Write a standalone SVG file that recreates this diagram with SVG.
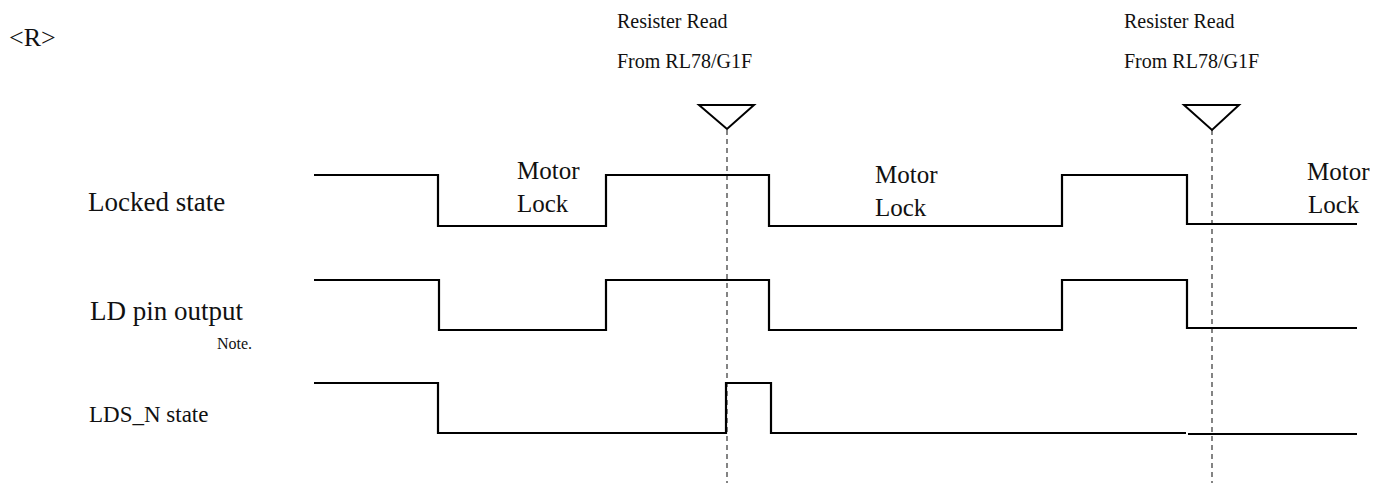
<svg xmlns="http://www.w3.org/2000/svg" width="1374" height="483" viewBox="0 0 1374 483" font-family="'Liberation Serif', 'Times New Roman', 'DejaVu Serif', serif">
<style>
text{font-family:'Liberation Serif','Times New Roman','DejaVu Serif',serif;fill:#111}
.sig{fill:none;stroke:#000;stroke-width:2.2;stroke-linejoin:miter}
.dash{fill:none;stroke:#333;stroke-width:1.2;stroke-dasharray:5 4}
.tri{fill:#fff;stroke:#000;stroke-width:2}
.lbl{font-size:27px}
.ml{font-size:25px}
.rr{font-size:20px}
</style>
<rect width="1374" height="483" fill="#fff"/>
<text x="9" y="46" font-size="26">&lt;R&gt;</text>
<g id="labels">
<text class="lbl" x="88" y="211">Locked state</text>
<text class="lbl" x="90" y="320">LD pin output</text>
<text x="217" y="349" font-size="16">Note.</text>
<text x="89" y="422" font-size="23">LDS_N state</text>
</g>
<g id="connectors">
<line class="dash" x1="727" y1="130" x2="727" y2="483"/>
<line class="dash" x1="1212" y1="130" x2="1212" y2="483"/>
</g>
<g id="read1">
<polygon class="tri" points="699,105 754,105 727,129"/>
<text class="rr" x="617" y="28">Resister Read</text>
<text class="rr" x="617" y="68">From RL78/G1F</text>
</g>
<g id="read2">
<polygon class="tri" points="1184,105 1239,105 1212,130"/>
<text class="rr" x="1124" y="28">Resister Read</text>
<text class="rr" x="1124" y="68">From RL78/G1F</text>
</g>
<g id="locked">
<polyline class="sig" points="314,175 438,175 438,226 606,226 606,175 769,175 769,226 1062,226 1062,175 1187,175 1187,224 1357,224"/>
<text class="ml" x="517" y="179">Motor</text>
<text class="ml" x="517" y="212">Lock</text>
<text class="ml" x="875" y="183">Motor</text>
<text class="ml" x="875" y="216">Lock</text>
<text class="ml" x="1307" y="180">Motor</text>
<text class="ml" x="1308" y="213">Lock</text>
</g>
<g id="ldpin">
<polyline class="sig" points="314,280 439,280 439,330 606,330 606,280 769,280 769,330 1062,330 1062,280 1187,280 1187,328 1357,328"/>
</g>
<g id="ldsn">
<polyline class="sig" points="314,383 438,383 438,433 726,433 726,383 771,383 771,433 1186,433"/>
<line class="sig" x1="1188" y1="434" x2="1357" y2="434"/>
</g>
</svg>
